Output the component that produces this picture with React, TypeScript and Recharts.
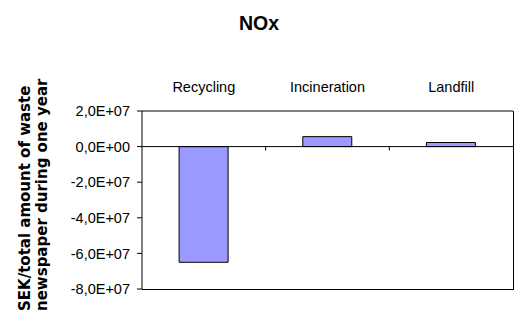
import React from 'react'
import { Bar, BarChart, ReferenceLine, XAxis, YAxis } from 'recharts'

const categories = ['Recycling', 'Incineration', 'Landfill']
const noxValues = [-6.5e7, 5.6e6, 2.3e6]
const yTicks = [2e7, 0, -2e7, -4e7, -6e7, -8e7]
const yDomain = [-8e7, 2e7]
const titleText = 'NOx'
const yTitleLines = ['SEK/total amount of waste', 'newspaper during one year']

const data = categories.map((name, i) => ({ name, value: noxValues[i] }))

const FONT = '"Liberation Sans", Arial, sans-serif'

// chart layout
const CHART_W = 520
const CHART_H = 321
const MARGIN = { top: 71, right: 7, bottom: 32, left: 0 }
const TOP_AXIS_H = 40
const Y_AXIS_W = 142
const PLOT_TOP = MARGIN.top + TOP_AXIS_H
const PLOT_BOTTOM = CHART_H - MARGIN.bottom
const PLOT_RIGHT = CHART_W - MARGIN.right

// Excel-style scientific notation with a decimal comma: 2,0E+07
function sci(v: number): string {
  if (v === 0) return '0,0E+00'
  const [mant, exp] = v.toExponential(1).split('e')
  const e = Number(exp)
  const sign = e < 0 ? '-' : '+'
  const digits = String(Math.abs(e)).padStart(2, '0')
  return `${mant.replace('.', ',')}E${sign}${digits}`
}

// zero line with small ticks between the category bands
function ZeroLine(props: any) {
  const { x1, y1, x2, y2 } = props
  const n = categories.length
  const marks = []
  for (let k = 1; k < n; k++) {
    const x = x1 + ((x2 - x1) * k) / n
    marks.push(<line key={k} x1={x} y1={y1} x2={x} y2={y1 + 4} stroke="#000" strokeWidth={1} />)
  }
  return (
    <g>
      <line x1={x1} y1={y1} x2={x2} y2={y2} stroke="#000" strokeWidth={1} />
      {marks}
    </g>
  )
}

function YTitle() {
  const style = { fontFamily: '"DejaVu Sans", sans-serif', fontWeight: 700, fontSize: 15, fill: '#000' }
  return (
    <g>
      <text x={30} y={311} transform="rotate(-90, 30, 311)" textAnchor="start" style={style}>
        {yTitleLines[0]}
      </text>
      <text x={47} y={311} transform="rotate(-90, 47, 311)" textAnchor="start" style={style}>
        {yTitleLines[1]}
      </text>
    </g>
  )
}

export default function App() {
  return (
    <div style={{ position: 'absolute', left: 0, top: 0, width: CHART_W, height: CHART_H, background: '#fff' }}>
      <div
        style={{
          position: 'absolute',
          left: 0,
          top: 13,
          width: 518,
          textAlign: 'center',
          fontFamily: FONT,
          fontWeight: 700,
          fontSize: 19.5,
          lineHeight: '20px',
        }}
      >
        {titleText}
      </div>
      <BarChart width={CHART_W} height={CHART_H} data={data} margin={MARGIN} barCategoryGap="30%">
        <XAxis
          dataKey="name"
          orientation="top"
          height={TOP_AXIS_H}
          tickSize={0}
          tickMargin={19}
          tickLine={false}
          axisLine={{ stroke: '#000' }}
          tick={{ fontSize: 14.5, fontFamily: FONT, fill: '#000' }}
        />
        <YAxis
          width={Y_AXIS_W}
          domain={yDomain}
          ticks={yTicks}
          interval={0}
          tickFormatter={sci}
          tickSize={5}
          tickMargin={7}
          tickLine={{ stroke: '#000' }}
          axisLine={{ stroke: '#000' }}
          tick={{ fontSize: 14.5, fontFamily: FONT, fill: '#000' }}
          label={{ content: () => <YTitle /> }}
        />
        <ReferenceLine y={0} shape={ZeroLine} />
        <Bar dataKey="value" fill="#9999FF" stroke="#000" strokeWidth={1} isAnimationActive={false} />
      </BarChart>
      {/* right and bottom edges of the plot frame */}
      <div
        style={{
          position: 'absolute',
          left: Y_AXIS_W,
          top: PLOT_TOP,
          width: PLOT_RIGHT - Y_AXIS_W + 1,
          height: PLOT_BOTTOM - PLOT_TOP + 1,
          boxSizing: 'border-box',
          borderRight: '1px solid #000',
          borderBottom: '1px solid #000',
          pointerEvents: 'none',
        }}
      />
    </div>
  )
}
